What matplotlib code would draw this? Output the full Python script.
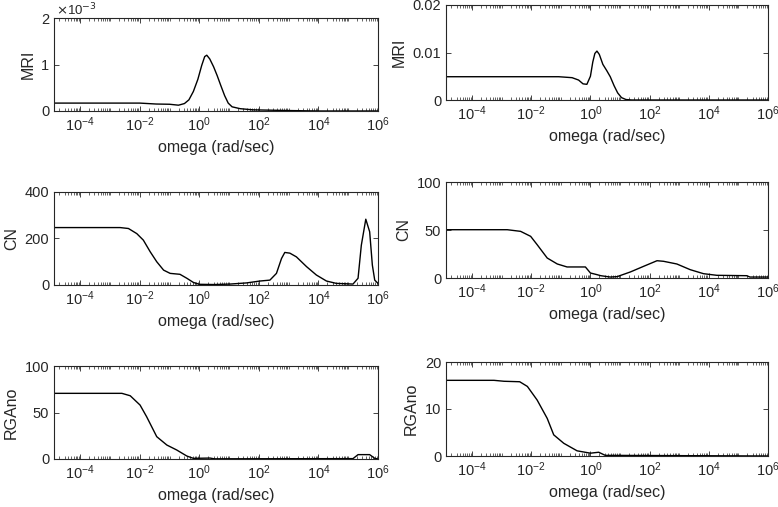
import numpy as np
import matplotlib
matplotlib.use("Agg")
import matplotlib.pyplot as plt
from matplotlib.ticker import LogLocator, NullFormatter, FixedLocator

plt.rcParams['font.family'] = ['Liberation Sans', 'DejaVu Sans']

XMIN_EXP = -4.88
XMAX_EXP = 6.0

# ---- data: log10(omega) and values ----
mri1_logw = [XMIN_EXP, -2.0, -1.45, -1.0, -0.7, -0.5, -0.35, -0.2, -0.05, 0.08, 0.18, 0.25, 0.35, 0.48, 0.6, 0.72, 0.85, 0.97, 1.1, 1.37, 1.8, 3.0, 4.0, 6.0]
mri1_val = [0.17e-3, 0.17e-3, 0.15e-3, 0.145e-3, 0.125e-3, 0.16e-3, 0.24e-3, 0.42e-3, 0.68e-3, 0.98e-3, 1.17e-3, 1.2e-3, 1.12e-3, 0.95e-3, 0.76e-3, 0.55e-3, 0.33e-3, 0.17e-3, 0.09e-3, 0.05e-3, 0.025e-3, 0.01e-3, 0.0, 0.0]

mri2_logw = [XMIN_EXP, -1.07, -0.62, -0.4, -0.25, -0.12, 0.0, 0.08, 0.15, 0.22, 0.3, 0.42, 0.55, 0.67, 0.8, 0.92, 1.05, 1.2, 1.4, 6.0]
mri2_val = [0.0049, 0.0049, 0.0047, 0.0042, 0.0034, 0.0033, 0.0050, 0.0080, 0.0098, 0.0103, 0.0096, 0.0075, 0.0062, 0.0049, 0.0030, 0.0015, 0.0005, 0.0001, 0.0, 0.0]

cn1_logw = [XMIN_EXP, -2.66, -2.38, -2.1, -1.88, -1.65, -1.43, -1.2, -0.98, -0.65, -0.42, -0.2, 0.0, 0.5, 1.03, 1.59, 2.03, 2.37, 2.59, 2.76, 2.87, 3.04, 3.26, 3.6, 3.93, 4.27, 4.6, 5.16, 5.33, 5.44, 5.59, 5.72, 5.81, 5.89, 6.0]
cn1_val = [247, 247, 243, 221, 193, 143, 100, 64, 50, 46, 29, 11, 3, 2, 4, 9, 17, 21, 50, 114, 140, 137, 121, 79, 43, 17, 7, 4, 29, 171, 283, 229, 86, 21, 7]

cn2_logw = [XMIN_EXP, -2.81, -2.36, -2.02, -1.8, -1.46, -1.12, -0.79, -0.17, 0.0, 0.22, 0.35, 0.67, 0.9, 1.35, 1.8, 2.25, 2.47, 2.92, 3.37, 3.82, 4.27, 5.28, 5.39, 6.0]
cn2_val = [50.3, 50.3, 48.6, 43.4, 34.7, 20.8, 14.6, 11.5, 11.5, 5.2, 3.5, 2.4, 1.0, 1.4, 6.3, 12.2, 18.0, 17.4, 14.6, 8.7, 4.5, 2.8, 2.4, 1.0, 1.0]

rga1_logw = [XMIN_EXP, -2.6, -2.32, -1.99, -1.77, -1.43, -1.09, -0.76, -0.42, -0.2, 0.36, 0.5, 5.16, 5.33, 5.72, 5.89, 6.0]
rga1_val = [70.6, 70.6, 68, 58, 45.5, 24, 15, 9.7, 3.2, 0.7, 1.0, 0.2, 0.4, 4.7, 4.7, 0.7, 0.0]

rga2_logw = [XMIN_EXP, -3.26, -2.92, -2.39, -2.13, -1.8, -1.46, -1.24, -0.9, -0.45, 0.0, 0.28, 0.5, 6.0]
rga2_val = [16.1, 16.1, 15.9, 15.8, 14.8, 11.9, 8.0, 4.5, 2.7, 1.1, 0.6, 0.8, 0.14, 0.0]

ylabels = [["MRI", "MRI"], ["CN", "CN"], ["RGAno", "RGAno"]]
yticks = [[[0, 1e-3, 2e-3], [0, 0.01, 0.02]], [[0, 200, 400], [0, 50, 100]], [[0, 50, 100], [0, 10, 20]]]
ytick_labels = [[["0", "1", "2"], ["0", "0.01", "0.02"]], [["0", "200", "400"], ["0", "50", "100"]], [["0", "50", "100"], ["0", "10", "20"]]]
xlabel = "omega (rad/sec)"

series = [[(mri1_logw, mri1_val), (mri2_logw, mri2_val)],
          [(cn1_logw, cn1_val), (cn2_logw, cn2_val)],
          [(rga1_logw, rga1_val), (rga2_logw, rga2_val)]]

W, H = 778, 507
fig = plt.figure(figsize=(W / 100, H / 100), dpi=100)

# axes boxes in pixels: (left, top, right, bottom)
boxes = [[(54, 18, 378, 111), (446, 5, 768, 100)],
         [(54, 192, 378, 285), (446, 182, 768, 278)],
         [(54, 366, 378, 459), (446, 362, 768, 456)]]

axcol = '#262626'
for r in range(3):
    for c in range(2):
        l, t, rr, b = boxes[r][c]
        ax = fig.add_axes([l / W, 1 - b / H, (rr - l) / W, (b - t) / H])
        lw, vals = series[r][c]
        ax.plot(10 ** np.array(lw), vals, color='black', lw=1.0)
        ax.set_xscale('log')
        ax.set_xlim(10 ** XMIN_EXP, 10 ** XMAX_EXP)
        yt = yticks[r][c]
        ax.set_ylim(yt[0], yt[-1])
        ax.set_yticks(yt)
        ax.set_yticklabels(ytick_labels[r][c])
        ax.xaxis.set_major_locator(FixedLocator([1e-4, 1e-2, 1e0, 1e2, 1e4, 1e6]))
        ax.xaxis.set_minor_locator(LogLocator(base=10, subs=np.arange(1, 10), numticks=40))
        ax.xaxis.set_minor_formatter(NullFormatter())
        ax.tick_params(which='both', direction='in', top=True, right=True, colors=axcol,
                       labelcolor='#262626', labelsize=10.5)
        ax.tick_params(which='major', length=3.5, width=0.6)
        ax.tick_params(which='minor', length=2, width=0.5)
        for s in ax.spines.values():
            s.set_color(axcol)
            s.set_linewidth(0.8)
        ax.set_xlabel(xlabel, fontsize=11.5, color='#262626', labelpad=4)
        ax.set_ylabel(ylabels[r][c], fontsize=11.5, color='#262626', labelpad=4)
        if r == 0 and c == 0:
            ax.text(0.005, 1.0, r"$\times$10$^{-3}$", transform=ax.transAxes,
                    fontsize=9.5, color='#262626', ha='left', va='bottom')

fig.savefig("out.png", dpi=100)
